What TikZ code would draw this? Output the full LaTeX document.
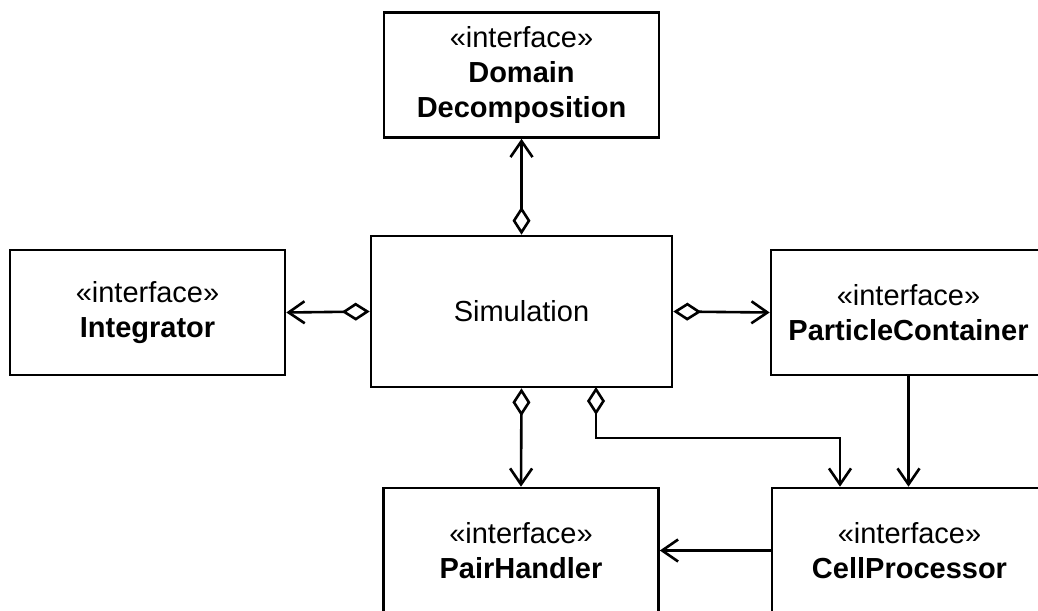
\documentclass[tikz,border=0pt]{standalone}
\usepackage{fontspec}
\setmainfont{Liberation Sans}
\usetikzlibrary{arrows.meta}
\tikzset{
  agg/.tip={Diamond[open,length=28pt,width=18pt,fill=white]},
  nav/.tip={Straight Barb[length=16pt,width=22pt]}}
\begin{document}
\begin{tikzpicture}[x=1pt,y=-1pt,
  box/.style={draw,line width=2.6pt,fill=white,inner sep=0pt,align=center,
    font=\fontsize{29}{35}\selectfont,minimum width=275pt,minimum height=125pt},
  conn/.style={line width=2.6pt}]
\useasboundingbox (0,0) rectangle (1038,610);
\clip (0,0) rectangle (1038,610);
\node[box] (dd) at (521.5,75) {«interface»\\\textbf{Domain}\\\textbf{Decomposition}};
\node[box,minimum width=301pt,minimum height=151pt] (sim) at (521.5,311.5) {Simulation};
\node[box] (int) at (147.5,312.5) {«interface»\\\textbf{Integrator}};
\node[box] (pc) at (908.5,312.5) {«interface»\\\textbf{ParticleContainer}};
\node[box] (ph) at (521,550.5) {«interface»\\\textbf{PairHandler}};
\node[box] (cp) at (909.5,550.5) {«interface»\\\textbf{CellProcessor}};
\coordinate (simb2) at (596,387);
\coordinate (bend1) at (596,438);
\coordinate (bend2) at (840,438);
\draw[conn,agg-nav] (sim.north) -- (dd.south);
\draw[conn,agg-nav] (sim.west) -- (int.east);
\draw[conn,agg-nav] (sim.east) -- (pc.west);
\draw[conn,agg-nav] (sim.south) -- (ph.north);
\draw[conn,agg-nav] (simb2) -- (bend1) -- (bend2) -- (bend2 |- cp.north);
\draw[conn,-nav] (pc.south) -- (pc.south |- cp.north);
\draw[conn,-nav] (cp.west) -- (ph.east);
\end{tikzpicture}
\end{document}
